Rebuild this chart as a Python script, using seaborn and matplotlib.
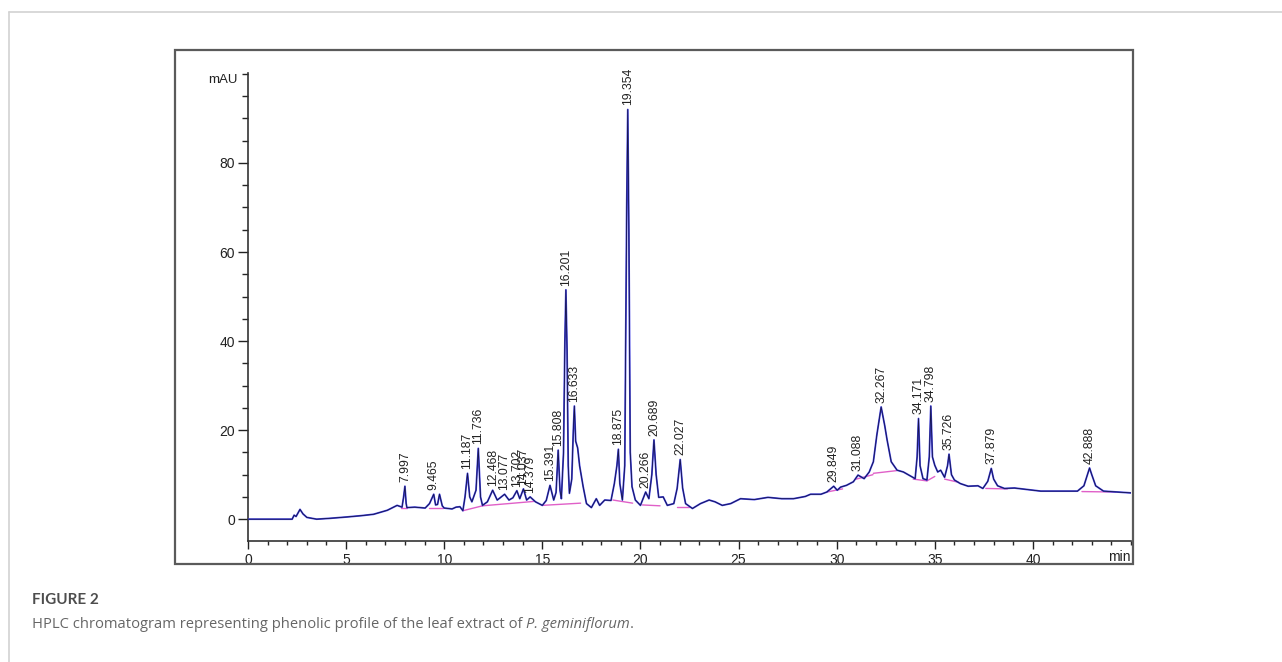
import matplotlib
matplotlib.use("Agg")
import matplotlib.pyplot as plt
import seaborn as sns
from matplotlib.patches import Rectangle
from matplotlib.lines import Line2D
from matplotlib.ticker import MultipleLocator

# trace (time in min, signal in mAU)
trace_time = [0.0, 2.25, 2.35, 2.45, 2.65, 2.8, 3.0, 3.5, 4.2, 5.05, 5.8, 6.4, 7.1, 7.6, 7.85, 7.93,
              7.997, 8.06, 8.1, 8.5, 9.03, 9.25, 9.465, 9.56, 9.66, 9.76, 9.9, 10.0, 10.4, 10.6, 10.8,
              10.95, 11.06, 11.187, 11.3, 11.41, 11.62, 11.736, 11.85, 11.95, 12.2, 12.468, 12.7, 12.85,
              13.077, 13.3, 13.5, 13.702, 13.85, 14.037, 14.2, 14.379, 14.65, 15.0, 15.2, 15.391, 15.58,
              15.7, 15.808, 15.9, 15.97, 16.08, 16.15, 16.201, 16.26, 16.32, 16.38, 16.5, 16.58, 16.633,
              16.7, 16.8, 16.9, 17.08, 17.25, 17.5, 17.75, 17.92, 18.18, 18.5, 18.67, 18.8, 18.875, 18.95,
              19.08, 19.2, 19.3, 19.354, 19.41, 19.48, 19.57, 19.74, 20.0, 20.15, 20.266, 20.43, 20.58,
              20.689, 20.8, 20.93, 21.16, 21.37, 21.7, 21.87, 22.027, 22.15, 22.3, 22.65, 23.06, 23.5,
              23.8, 24.17, 24.6, 25.1, 25.8, 26.5, 27.2, 27.8, 28.4, 28.67, 29.2, 29.5, 29.849, 30.03,
              30.2, 30.5, 30.85, 31.088, 31.4, 31.66, 31.87, 32.05, 32.267, 32.45, 32.57, 32.78, 33.08,
              33.4, 33.76, 34.0, 34.1, 34.171, 34.25, 34.4, 34.6, 34.72, 34.798, 34.88, 35.0, 35.15, 35.3,
              35.5, 35.65, 35.726, 35.85, 36.0, 36.3, 36.7, 37.2, 37.45, 37.7, 37.879, 38.0, 38.2, 38.55,
              39.06, 39.65, 40.4, 41.25, 42.27, 42.6, 42.888, 43.0, 43.2, 43.6, 44.3, 45.0]
trace_mau = [0.0, 0.0, 0.9, 0.6, 2.2, 1.2, 0.4, 0.0, 0.2, 0.5, 0.8, 1.1, 2.0, 3.1, 2.7, 5.0,
             7.4, 3.5, 2.6, 2.7, 2.5, 3.5, 5.6, 3.2, 3.3, 5.6, 3.0, 2.5, 2.3, 2.7, 2.8,
             1.9, 5.0, 10.3, 5.0, 3.9, 6.5, 15.9, 5.0, 3.1, 3.9, 6.5, 4.3, 4.8,
             5.6, 4.3, 4.8, 6.4, 4.6, 6.8, 4.3, 5.0, 3.9, 3.1, 4.2, 7.6, 4.3,
             6.0, 15.5, 6.5, 4.6, 15.0, 40.0, 51.5, 38.0, 12.0, 5.8, 9.0, 20.0, 25.4,
             17.5, 16.0, 12.0, 7.3, 3.5, 2.6, 4.6, 3.1, 4.3, 4.2, 8.0, 12.0, 15.7, 8.0,
             4.3, 12.0, 70.0, 92.0, 65.0, 15.0, 7.3, 4.3, 3.1, 4.8, 6.1, 4.6, 10.0,
             17.8, 10.0, 4.9, 5.0, 3.1, 3.5, 6.9, 13.4, 7.0, 3.5, 2.4, 3.5, 4.3,
             3.9, 3.1, 3.5, 4.6, 4.4, 4.9, 4.6, 4.6, 5.1, 5.6, 5.6, 6.1, 7.4, 6.5,
             7.2, 7.6, 8.4, 9.9, 9.1, 10.6, 12.9, 19.0, 25.2, 21.0, 17.8, 12.9, 11.0,
             10.6, 9.7, 9.1, 14.0, 22.6, 12.0, 9.1, 8.8, 14.0, 25.4, 14.0, 12.1, 10.6, 11.0,
             9.4, 12.0, 14.6, 10.0, 8.8, 8.0, 7.4, 7.5, 6.9, 8.5, 11.4, 9.0, 7.5, 6.9,
             7.0, 6.7, 6.3, 6.3, 6.3, 7.5, 11.5, 10.0, 7.5, 6.3, 6.1, 5.9]

# labelled peaks
peak_rt = [7.997, 9.465, 11.187, 11.736, 12.468, 13.077, 13.702, 14.037, 14.379, 15.391, 15.808,
           16.201, 16.633, 18.875, 19.354, 20.266, 20.689, 22.027, 29.849, 31.088, 32.267, 34.171,
           34.798, 35.726, 37.879, 42.888]
peak_height = [7.4, 5.6, 10.3, 15.9, 6.5, 5.6, 6.4, 6.8, 5.0, 7.6, 15.5,
               51.5, 25.4, 15.7, 92.0, 6.1, 17.8, 13.4, 7.4, 9.9, 25.2, 22.6,
               25.4, 14.6, 11.4, 11.5]
peak_label = ["7.997", "9.465", "11.187", "11.736", "12.468", "13.077", "13.702", "14.037", "14.379",
              "15.391", "15.808", "16.201", "16.633", "18.875", "19.354", "20.266", "20.689", "22.027",
              "29.849", "31.088", "32.267", "34.171", "34.798", "35.726", "37.879", "42.888"]

# integration baselines (start time, start mAU, end time, end mAU)
base_t0 = [7.8, 9.2, 10.95, 11.95, 15.0, 18.6, 20.1, 21.85, 29.5, 31.0, 31.87, 33.9, 34.6, 35.5, 37.6, 42.5]
base_y0 = [2.6, 2.6, 1.9, 3.0, 3.1, 4.3, 3.2, 2.8, 6.1, 9.0, 10.3, 9.0, 8.6, 9.0, 6.9, 6.2]
base_t1 = [8.1, 9.95, 11.95, 14.6, 16.95, 19.6, 21.0, 22.45, 30.3, 31.85, 33.05, 34.6, 35.0, 36.2, 38.7, 44.2]
base_y1 = [2.6, 2.6, 3.0, 4.0, 3.6, 3.6, 3.0, 2.8, 6.8, 10.0, 10.9, 8.6, 9.6, 8.3, 6.8, 6.1]

x_ticks = [0, 5, 10, 15, 20, 25, 30, 35, 40]
y_ticks = [0, 20, 40, 60, 80]

sns.set_style("white")
plt.rcParams["font.family"] = ["Liberation Sans", "DejaVu Sans"]

W, H = 1282, 662
fig = plt.figure(figsize=(W / 100, H / 100), dpi=100)

# page frame (top and left rule)
fig.add_artist(Line2D([9 / W, 1], [1 - 12 / H, 1 - 12 / H], color="#d2d2d2", lw=1.2))
fig.add_artist(Line2D([9 / W, 9 / W], [0, 1 - 12 / H], color="#d2d2d2", lw=1.2))
# chart image border
fig.add_artist(Rectangle((175 / W, 1 - 564 / H), (1133 - 175) / W, (564 - 50) / H,
                         fill=False, edgecolor="#5a5a5a", lw=1.6))

ax = fig.add_axes([248 / W, 1 - 541 / H, (1131 - 248) / W, (541 - 73) / H])

for i in range(len(base_t0)):
    ax.plot([base_t0[i], base_t1[i]], [base_y0[i], base_y1[i]], color="#e060c8", lw=1.0, zorder=2)

sns.lineplot(x=trace_time, y=trace_mau, ax=ax, color="#4444e6", lw=1.3, estimator=None, zorder=3)
sns.lineplot(x=trace_time, y=trace_mau, ax=ax, color="#15154a", lw=0.6, estimator=None, zorder=4)

for rt, h, lab in zip(peak_rt, peak_height, peak_label):
    ax.annotate(lab, (rt, h), xytext=(0, 3), textcoords="offset points", rotation=90,
                ha="center", va="bottom", fontsize=8.7, color="#222222")

ax.set_xlim(0, 45)
ax.set_ylim(-4.9, 100.2)
ax.set_xticks(x_ticks)
ax.set_yticks(y_ticks)
ax.xaxis.set_minor_locator(MultipleLocator(1))
ax.yaxis.set_minor_locator(MultipleLocator(5))
ax.tick_params(axis="x", which="major", direction="out", length=6, width=1, pad=2.5,
               labelsize=10, colors="#222222", bottom=True)
ax.tick_params(axis="x", which="minor", direction="out", length=3, width=1, bottom=True)
ax.tick_params(axis="y", which="major", direction="out", length=7, width=1, pad=2.5,
               labelsize=10, colors="#222222", left=True)
ax.tick_params(axis="y", which="minor", direction="out", length=4, width=1, left=True)
ax.set_xlabel("")
ax.set_ylabel("")
sns.despine(ax=ax)
for s in ["left", "bottom"]:
    ax.spines[s].set_color("#333333")
    ax.spines[s].set_linewidth(1.2)

fig.text(223 / W, 1 - 80 / H, "mAU", ha="center", va="center", fontsize=9.5, color="#222222")
fig.text(1131 / W, 1 - 557 / H, "min", ha="right", va="center", fontsize=10, color="#222222")

# caption
fig.text(32 / W, 1 - 600 / H, "FIGURE 2", ha="left", va="center", fontsize=11,
         fontweight="bold", family=["Lato", "DejaVu Sans"], color="#4d4d4d")
cap_font = dict(fontsize=10.6, family=["Open Sans", "DejaVu Sans"], color="#666666")
cap = fig.text(32 / W, 1 - 625 / H, "HPLC chromatogram representing phenolic profile of the leaf extract of ",
               ha="left", va="center", **cap_font)
fig.canvas.draw()
bb = cap.get_window_extent()
it = fig.text(bb.x1 / W, 1 - 625 / H, "P. geminiflorum", ha="left", va="center", style="italic", **cap_font)
fig.canvas.draw()
bb2 = it.get_window_extent()
fig.text(bb2.x1 / W, 1 - 625 / H, ".", ha="left", va="center", **cap_font)

fig.savefig("out.png", dpi=100)
plt.close(fig)
